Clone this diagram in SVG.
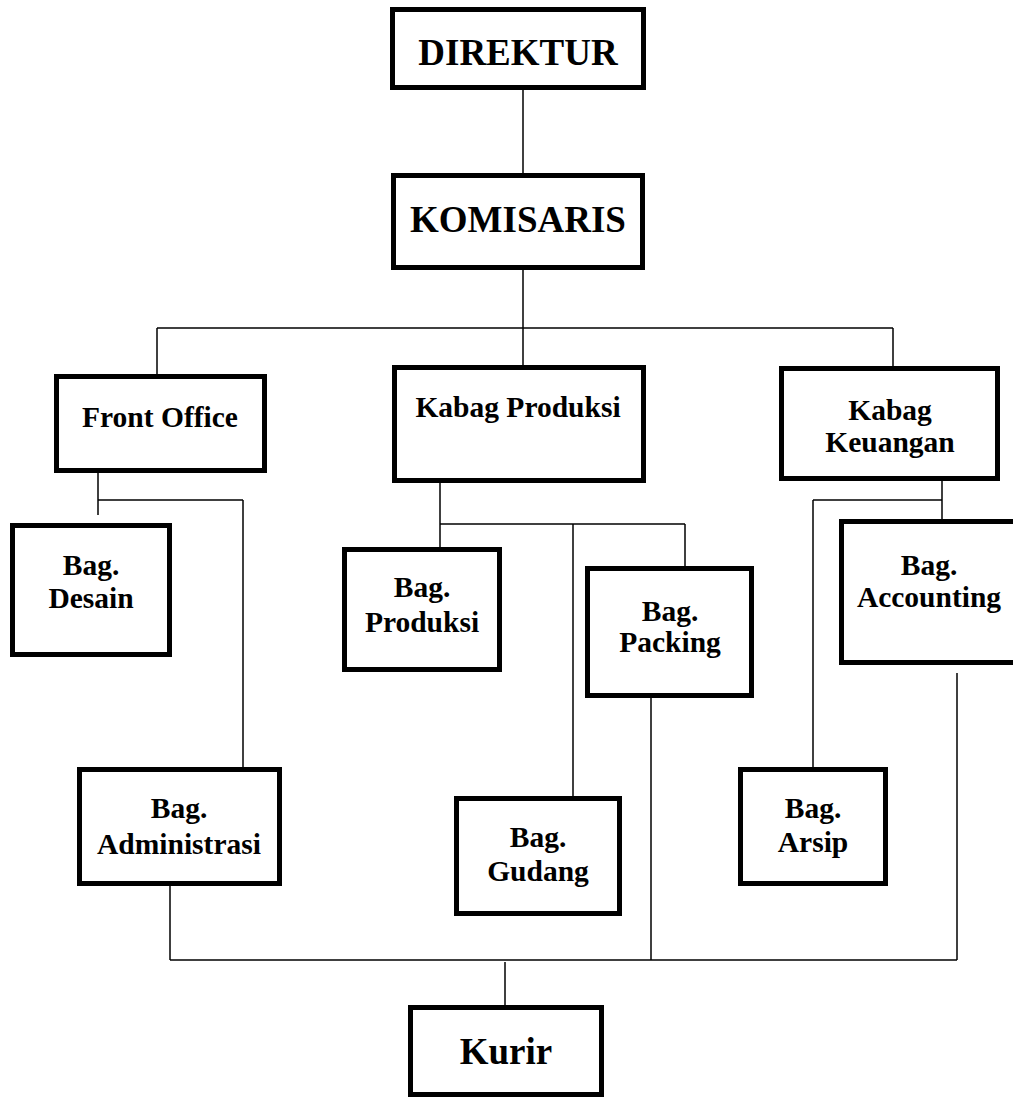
<svg xmlns="http://www.w3.org/2000/svg" width="1013" height="1100" viewBox="0 0 1013 1100">
<style>
.box{fill:#fff;stroke:#000;stroke-width:5}
.t{font-family:"Liberation Serif","Times New Roman",serif;font-weight:bold;font-size:29.5px;text-anchor:middle;fill:#000}
.big{font-size:37px}
.k{font-size:37px}
.c line{stroke:#000;stroke-width:1.5}
</style>
<rect width="1013" height="1100" fill="#fff"/>
<g class="c" id="connectors">
<line x1="523" y1="90" x2="523" y2="173"/>
<line x1="523" y1="270" x2="523" y2="365"/>
<line x1="157" y1="328" x2="893" y2="328"/>
<line x1="157" y1="328" x2="157" y2="374"/>
<line x1="893" y1="328" x2="893" y2="366"/>
<line x1="98" y1="473" x2="98" y2="515"/>
<line x1="98" y1="500" x2="243" y2="500"/>
<line x1="243" y1="500" x2="243" y2="767"/>
<line x1="440" y1="483" x2="440" y2="547"/>
<line x1="440" y1="524" x2="685" y2="524"/>
<line x1="573" y1="524" x2="573" y2="796"/>
<line x1="685" y1="524" x2="685" y2="566"/>
<line x1="942" y1="481" x2="942" y2="519"/>
<line x1="813" y1="500" x2="942" y2="500"/>
<line x1="813" y1="500" x2="813" y2="767"/>
<line x1="170" y1="886" x2="170" y2="960"/>
<line x1="170" y1="960" x2="957" y2="960"/>
<line x1="651" y1="698" x2="651" y2="960"/>
<line x1="957" y1="673" x2="957" y2="960"/>
<line x1="505" y1="962" x2="505" y2="1005"/>
</g>
<g id="direktur"><rect class="box" x="392.5" y="9.5" width="251" height="78"/><text class="t big" x="518" y="65">DIREKTUR</text></g>
<g id="komisaris"><rect class="box" x="393.5" y="175.5" width="249" height="92"/><text class="t big" x="518" y="232">KOMISARIS</text></g>
<g id="front-office"><rect class="box" x="56.5" y="376.5" width="208" height="94"/><text class="t" x="160" y="427">Front Office</text></g>
<g id="kabag-produksi"><rect class="box" x="394.5" y="367.5" width="249" height="113"/><text class="t" x="518" y="417">Kabag Produksi</text></g>
<g id="kabag-keuangan"><rect class="box" x="781.5" y="368.5" width="216" height="110"/><text class="t" x="890" y="420">Kabag</text><text class="t" x="890" y="452">Keuangan</text></g>
<g id="bag-desain"><rect class="box" x="12.5" y="525.5" width="157" height="129"/><text class="t" x="91" y="575">Bag.</text><text class="t" x="91" y="608">Desain</text></g>
<g id="bag-produksi"><rect class="box" x="344.5" y="549.5" width="155" height="120"/><text class="t" x="422" y="597">Bag.</text><text class="t" x="422" y="632">Produksi</text></g>
<g id="bag-packing"><rect class="box" x="587.5" y="568.5" width="164" height="127"/><text class="t" x="670" y="621">Bag.</text><text class="t" x="670" y="652">Packing</text></g>
<g id="bag-accounting"><rect class="box" x="841.5" y="521.5" width="180" height="141"/><text class="t" x="929" y="575">Bag.</text><text class="t" x="929" y="607">Accounting</text></g>
<g id="bag-administrasi"><rect class="box" x="79.5" y="769.5" width="200" height="114"/><text class="t" x="179" y="818">Bag.</text><text class="t" x="179" y="854">Administrasi</text></g>
<g id="bag-gudang"><rect class="box" x="456.5" y="798.5" width="163" height="115"/><text class="t" x="538" y="847">Bag.</text><text class="t" x="538" y="881">Gudang</text></g>
<g id="bag-arsip"><rect class="box" x="740.5" y="769.5" width="145" height="114"/><text class="t" x="813" y="818">Bag.</text><text class="t" x="813" y="852">Arsip</text></g>
<g id="kurir"><rect class="box" x="410.5" y="1007.5" width="191" height="87"/><text class="t k" x="506" y="1064">Kurir</text></g>
</svg>
